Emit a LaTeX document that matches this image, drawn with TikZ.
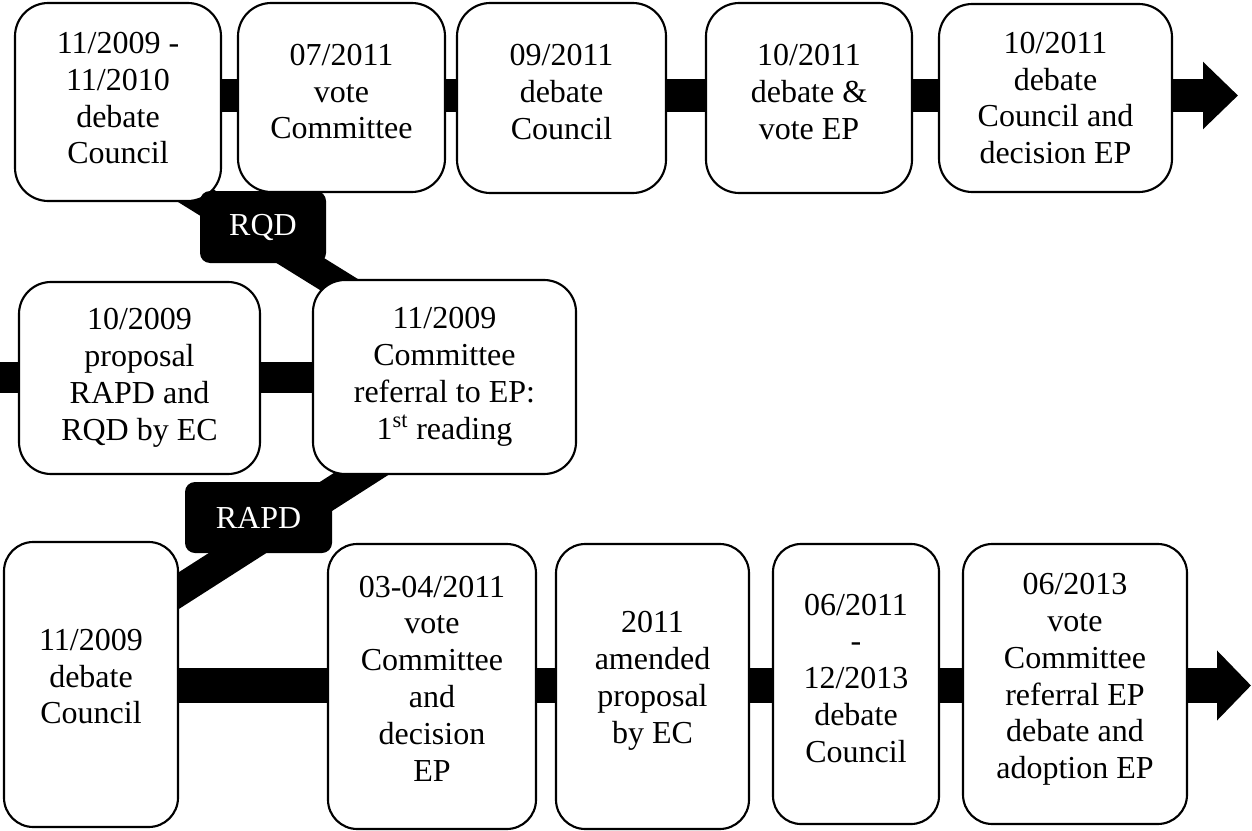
\documentclass[tikz,border=0pt]{standalone}
\usepackage{fontspec}
\setmainfont{Liberation Serif}
\usetikzlibrary{arrows.meta,backgrounds}
\newcommand\lowpad[1]{\rule[-#1]{0pt}{#1}}
\begin{document}
\begin{tikzpicture}[x=0.75pt,y=-0.75pt,
  box/.style={draw=black, line width=1.6pt, fill=white, align=center, inner sep=0pt,
    rounded corners=22pt, font=\fontsize{24}{27.6}\selectfont},
  sz/.style 2 args={minimum width=#1*0.75pt, minimum height=#2*0.75pt},
  tag/.style={fill=black, text=white, inner sep=0pt, rounded corners=7.5pt,
    font=\fontsize{24}{27.6}\selectfont},
  bar/.style={line width=24.75pt, line cap=butt, draw=black}]
\useasboundingbox (0,0) rectangle (1252,831);

% top row
\node[box, sz={206}{198}, rounded corners=25pt] (B1) at (118,102) {11/2009 -\\11/2010\\debate\\Council\lowpad{6pt}};
\node[box, sz={207}{189}, rounded corners=25pt] (B2) at (341.5,97.5) {07/2011\\vote\\Committee\lowpad{9pt}};
\node[box, sz={209}{190}, rounded corners=25pt] (B3) at (561.5,98) {09/2011\\debate\\Council\lowpad{9pt}};
\node[box, sz={206}{190}, rounded corners=25pt] (B4) at (809,98) {10/2011\\debate \&\\vote EP\lowpad{9pt}};
\node[box, sz={233}{188}, rounded corners=25pt] (B5) at (1055.5,98) {10/2011\\debate\\Council and\\decision EP};

% middle row
\node[box, sz={241}{192}, rounded corners=24pt] (M1) at (139.5,378) {10/2009\\proposal\\RAPD and\\RQD by EC};
\node[box, sz={263}{194}, rounded corners=24pt] (M2) at (444.5,377) {11/2009\\Committee\\referral to EP:\\1\textsuperscript{st} reading};

% bottom row
\node[box, sz={174}{285}] (L1) at (91,684.5) {11/2009\\debate\\Council\lowpad{12pt}};
\node[box, sz={208}{285}] (L2) at (432,686.5) {03-04/2011\\vote\\Committee\\and\\decision\\EP\lowpad{12pt}};
\node[box, sz={193}{285}] (L3) at (652.5,686.5) {2011\\amended\\proposal\\by EC\lowpad{14pt}};
\node[box, sz={166}{280}, rounded corners=21pt] (L4) at (856,684) {06/2011\\-\\12/2013\\debate\\Council\lowpad{9pt}};
\node[box, sz={224}{280}] (L5) at (1075,684) {06/2013\\vote\\Committee\\referral EP\\debate and\\adoption EP\lowpad{12pt}};

% labels
\node[tag, sz={126}{72}] (RQD) at (263,227) {RQD};
\node[tag, sz={147}{71}] (RAPD) at (258.5,517.5) {RAPD};

% connector coordinates
\coordinate (tT) at (1238,95.5);
\coordinate (mL) at (0,377.5);
\coordinate (bT) at (1251,685.5);
\coordinate (q1) at (118,147.5);
\coordinate (q2) at (444.5,350);
\coordinate (r1) at (91,646.8);
\coordinate (r2) at (444.5,420.6);

\begin{scope}[on background layer]
  % top row bar
  \draw[bar] (B1.center |- tT) -- (B2.center |- tT);
  \draw[bar] (B2.center |- tT) -- (B3.center |- tT);
  \draw[bar] (B3.center |- tT) -- (B4.center |- tT);
  \draw[bar] (B4.center |- tT) -- (B5.center |- tT);
  \draw[bar, -{Triangle[width=49pt,length=26.25pt]}] (B5.center |- tT) -- (tT);
  % middle bar
  \draw[bar, line width=23.25pt] (mL) -- (M1.center |- mL);
  \draw[bar, line width=23.25pt] (M1.center |- mL) -- (M2.center |- mL);
  % bottom bar
  \draw[bar, line width=26.25pt] (L1.center |- bT) -- (L2.center |- bT);
  \draw[bar, line width=26.25pt] (L2.center |- bT) -- (L3.center |- bT);
  \draw[bar, line width=26.25pt] (L3.center |- bT) -- (L4.center |- bT);
  \draw[bar, line width=26.25pt] (L4.center |- bT) -- (L5.center |- bT);
  \draw[bar, line width=26.25pt, -{Triangle[width=51pt,length=25.5pt]}] (L5.center |- bT) -- (bT);
  % diagonal bands
  \draw[bar, line width=22pt] (q1) -- (q2);
  \draw[bar, line width=23.25pt] (r1) -- (r2);
\end{scope}
\end{tikzpicture}
\end{document}
